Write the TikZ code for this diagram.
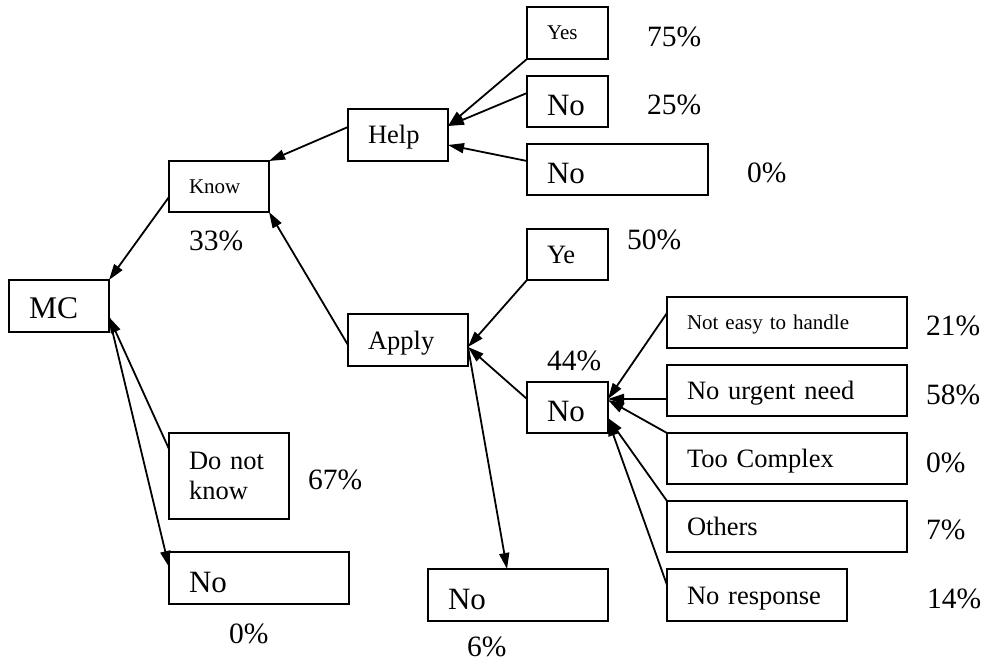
\documentclass[tikz,border=0pt]{standalone}
\usepackage{fontspec}
\setmainfont{Liberation Serif}
\usetikzlibrary{arrows.meta,calc}

\tikzset{
  box/.style={draw, line width=2pt, rectangle, anchor=north west, outer sep=0pt,
              inner xsep=20pt, inner ysep=0pt, align=left},
  fsmall/.style={font=\fontsize{21}{24}\selectfont, text height=14pt, text depth=0pt},
  fmid/.style={font=\fontsize{26.5}{30}\selectfont, text height=18pt, text depth=0pt},
  fbig/.style={font=\fontsize{31}{34}\selectfont, text height=28pt, text depth=0pt},
  fmc/.style={font=\fontsize{31.5}{34}\selectfont, text height=26pt, text depth=0pt},
  pct/.style={font=\fontsize{29.5}{32}\selectfont, anchor=base west, inner sep=0pt},
  arr/.style={line width=1.8pt, -{Triangle[length=16pt,width=10pt]}}
}

\begin{document}
\begin{tikzpicture}[x=1pt,y=-1pt]
\useasboundingbox (0,0) rectangle (983,663);

% root and first level
\node[box, fmc,   text width=60pt,  minimum height=52pt] (mc)    at (9,280)   {MC};
\node[box, fsmall,text width=60pt,  minimum height=51pt] (know)  at (169,161) {Know};
\node[box, fmid,  text width=80pt,  minimum height=86pt,
      text height=, text depth=] (dnk) at (169,433) {Do not\\know};
\node[box, fbig,  text width=140pt, minimum height=52pt] (nobl)  at (169,552) {No};

% second level
\node[box, fmid,  text width=60pt,  minimum height=52pt] (help)  at (348,109) {Help};
\node[box, fmid,  text width=80pt,  minimum height=52pt] (apply) at (348,314) {Apply};

% answers to "Help"
\node[box, fsmall,text width=41pt,  minimum height=52pt] (yes)   at (527,7)   {Yes};
\node[box, fbig,  text width=41pt,  minimum height=51pt] (no2)   at (527,76)  {No};
\node[box, fbig,  text width=141pt, minimum height=51pt] (no3)   at (527,144) {No};

% answers to "Apply"
\node[box, fmid,  text width=41pt,  minimum height=51pt] (ye)    at (527,229) {Ye};
\node[box, fbig,  text width=41pt,  minimum height=51pt] (nomid) at (527,382) {No};
\node[box, fbig,  text width=140pt, minimum height=52pt] (nobot) at (428,569) {No};

% reasons
\node[box, fsmall,text width=200pt, minimum height=51pt] (noteasy)    at (667,297) {Not easy to handle};
\node[box, fmid,  text width=200pt, minimum height=51pt] (nourgent)   at (667,365) {No urgent need};
\node[box, fmid,  text width=200pt, minimum height=51pt] (toocomplex) at (667,433) {Too Complex};
\node[box, fmid,  text width=200pt, minimum height=51pt] (others)     at (667,501) {Others};
\node[box, fmid,  text width=140pt, minimum height=52pt] (noresp)     at (667,569) {No response};

% percentages
\node[pct] (p75)  at (647,47)  {75\%};
\node[pct] (p25)  at (647,115) {25\%};
\node[pct] (p0a)  at (747,183) {0\%};
\node[pct] (p33)  at (189,251) {33\%};
\node[pct] (p50)  at (627,250) {50\%};
\node[pct] (p44)  at (547,370) {44\%};
\node[pct] (p21)  at (926,335) {21\%};
\node[pct] (p58)  at (926,404) {58\%};
\node[pct] (p0b)  at (926,472) {0\%};
\node[pct] (p7)   at (926,539) {7\%};
\node[pct] (p14)  at (927,608) {14\%};
\node[pct] (p67)  at (308,489) {67\%};
\node[pct] (p0c)  at (229,643) {0\%};
\node[pct] (p6)   at (467,656) {6\%};

% connectors
\draw[arr] ($(help.west)+(0,-8)$) -- (know.north east);
\draw[arr] ($(know.west)+(0,10.5)$) -- (mc.north east);
\draw[arr] (yes.south west) -- ($(help.east)+(0,-9)$);
\draw[arr] ($(no2.west)+(0,-8.5)$) -- ($(help.east)+(0,-9)$);
\draw[arr] ($(no3.west)+(0,-8.5)$) -- ($(help.east)+(0,10)$);
\draw[arr] ($(apply.west)+(0,5)$) -- (know.south east);
\draw[arr] (ye.south west) -- ($(apply.east)+(0,7)$);
\draw[arr] ($(nomid.west)+(0,-8.5)$) -- ($(apply.east)+(0,7)$);
\draw[arr] ($(apply.east)+(0,7)$) -- ($(nobot.north west)+(79,0)$);
\draw[arr] ($(dnk.west)+(0,-27)$) -- ($(mc.east)+(0,11)$);
\draw[arr] ($(mc.east)+(0,11)$) -- ($(nobl.west)+(0,-11)$);
\draw[arr] ($(noteasy.west)+(0,-9.5)$) -- ($(nomid.east)+(0,-8.5)$);
\draw[arr] ($(nourgent.west)+(0,8.5)$) -- ($(nomid.east)+(0,-8.5)$);
\draw[arr] (toocomplex.north west) -- ($(nomid.east)+(0,-7.5)$);
\draw[arr] (others.north west) -- ($(nomid.east)+(0,10.5)$);
\draw[arr] ($(noresp.west)+(0,-10)$) -- ($(nomid.east)+(0,12.5)$);
\end{tikzpicture}
\end{document}
